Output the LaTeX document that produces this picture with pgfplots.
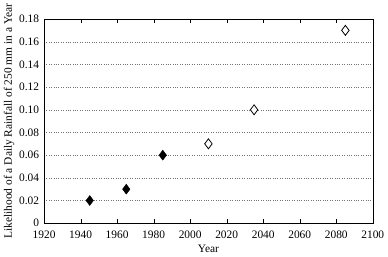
\documentclass[border=0pt]{standalone}
\usepackage{fontspec}
\setmainfont{Liberation Serif}
\usepackage{pgfplots}
\pgfplotsset{compat=1.18}
\begin{document}
\fontsize{11.5}{13}\selectfont
\begin{tikzpicture}
\begin{axis}[
  scale only axis,
  width=330bp, height=205bp,
  xmin=1920, xmax=2100, ymin=0, ymax=0.18,
  xtick={1920,1940,...,2100},
  ytick={0,0.02,...,0.18},
  yticklabels={0,0.02,0.04,0.06,0.08,0.10,0.12,0.14,0.16,0.18},
  xticklabel style={/pgf/number format/1000 sep={}},
  /pgf/number format/assume math mode=true,
  tick align=inside,
  ytick style={draw=none},
  xtick style={black},
  major tick length=4bp,
  ymajorgrids,
  grid style={black!55, dotted},
  axis line style={black},
  xlabel={Year},
  ylabel={Likelihood of a Daily Rainfall of 250 mm in a Year},
  xlabel style={yshift=2bp},
  ylabel style={yshift=-3bp},
  yticklabel style={xshift=-1bp},
  xticklabel style={yshift=-4bp},
  tick label style={font=\fontsize{11.5}{13}\selectfont},
  label style={font=\fontsize{11.5}{13}\selectfont},
]
\addplot[only marks, mark=diamond*, mark size=5bp, black, fill=black] coordinates {(1945,0.02) (1965,0.03) (1985,0.06)};
\addplot[only marks, mark=diamond*, mark size=5bp, black, fill=white, thick] coordinates {(2010,0.07) (2035,0.10) (2085,0.17)};
\end{axis}
\end{tikzpicture}
\end{document}
